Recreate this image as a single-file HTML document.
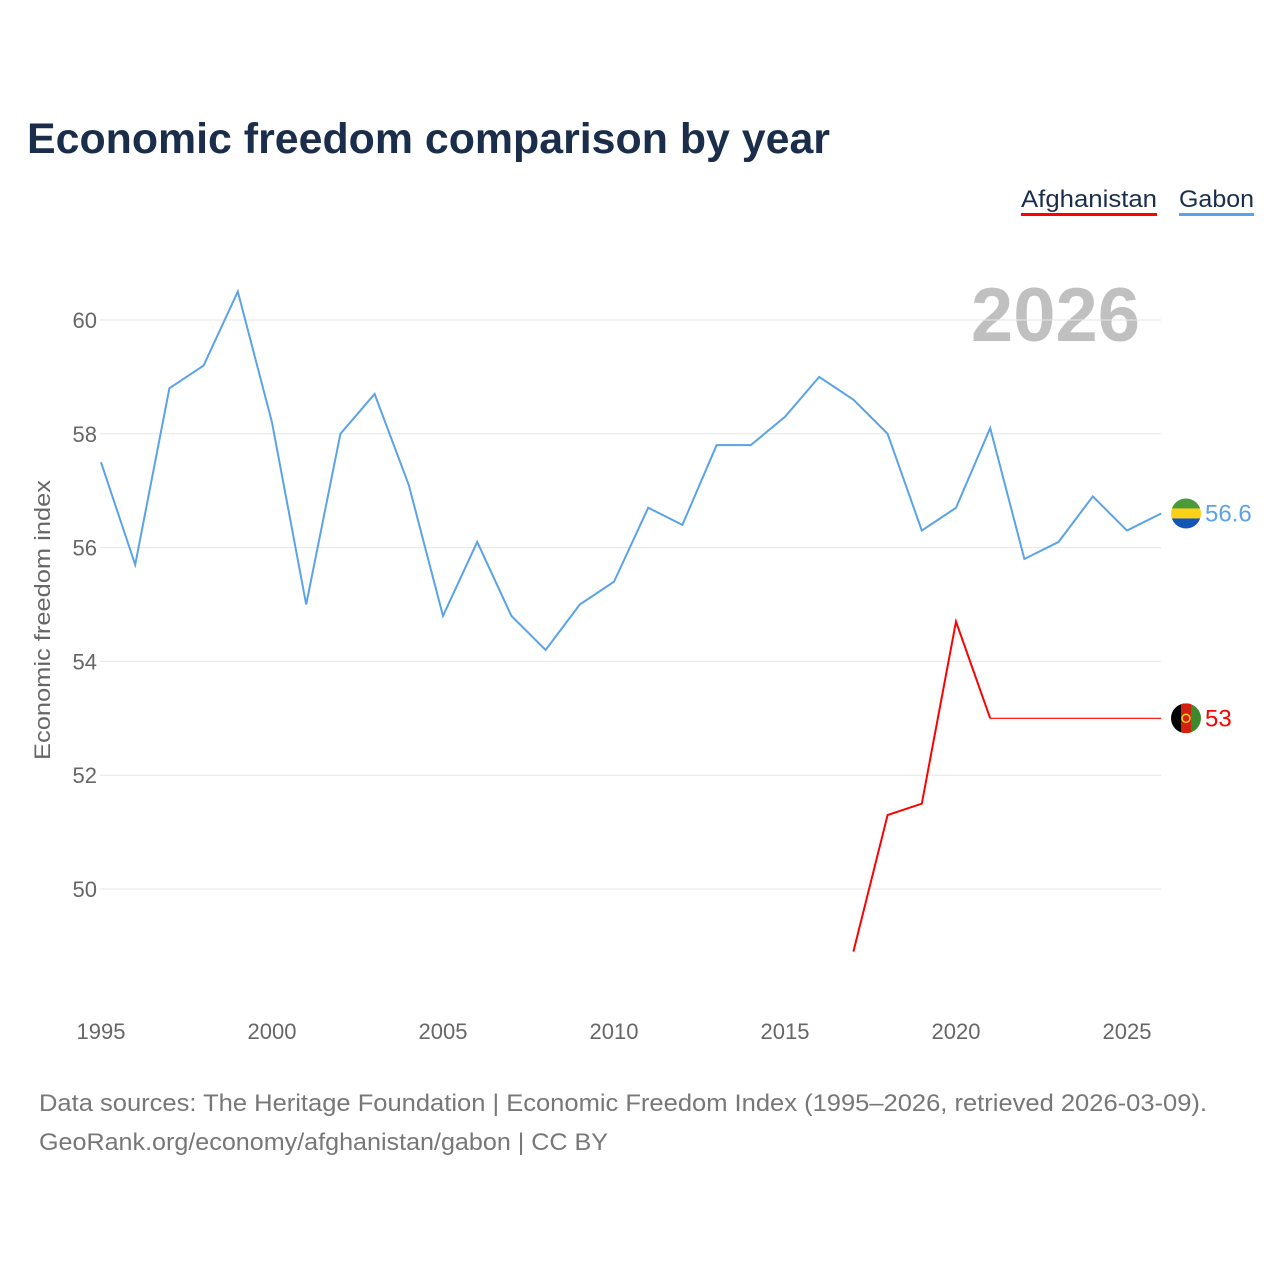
<!DOCTYPE html>
<html><head><meta charset="utf-8">
<style>
body{margin:0;background:#fff;font-family:"Liberation Sans",sans-serif;}
#wrap{position:relative;width:1280px;height:1280px;overflow:hidden;}
</style></head>
<body>
<div id="wrap">
<svg id="chart" width="1280" height="1280">
<text x="27" y="153" font-size="43" font-weight="bold" fill="#1a2e4c" textLength="803" lengthAdjust="spacingAndGlyphs">Economic freedom comparison by year</text>
<g>
<text x="1021" y="207" font-size="24" fill="#1a2e4c" textLength="136" lengthAdjust="spacingAndGlyphs">Afghanistan</text>
<rect x="1021" y="213" width="136" height="3" fill="#ff0000"/>
<text x="1179" y="207" font-size="24" fill="#1a2e4c" textLength="75" lengthAdjust="spacingAndGlyphs">Gabon</text>
<rect x="1179" y="213" width="75" height="3" fill="#5ba3e8"/>
</g>
<text x="1140" y="341" font-size="76" font-weight="bold" fill="#c0c0c0" text-anchor="end">2026</text>
<text transform="translate(50,620) rotate(-90)" font-size="22" fill="#666" text-anchor="middle" textLength="280" lengthAdjust="spacingAndGlyphs">Economic freedom index</text>
<g id="grid"></g><g id="yt"></g><g id="xt"></g><g id="lines"></g>
<text x="39" y="1111" font-size="24" fill="#777" textLength="1168" lengthAdjust="spacingAndGlyphs">Data sources: The Heritage Foundation | Economic Freedom Index (1995–2026, retrieved 2026-03-09).</text>
<text x="39" y="1150" font-size="24" fill="#777" textLength="569" lengthAdjust="spacingAndGlyphs">GeoRank.org/economy/afghanistan/gabon | CC BY</text>
</svg>
</div>
<script>
const years=[1995,1996,1997,1998,1999,2000,2001,2002,2003,2004,2005,2006,2007,2008,2009,2010,2011,2012,2013,2014,2015,2016,2017,2018,2019,2020,2021,2022,2023,2024,2025,2026];
const gabon=[57.5,55.7,58.8,59.2,60.5,58.2,55.0,58.0,58.7,57.1,54.8,56.1,54.8,54.2,55.0,55.4,56.7,56.4,57.8,57.8,58.3,59.0,58.6,58.0,56.3,56.7,58.1,55.8,56.1,56.9,56.3,56.6];
const afgYears=[2017,2018,2019,2020,2021,2022,2023,2024,2025,2026];
const afghanistan=[48.9,51.3,51.5,54.7,53,53,53,53,53,53];
const yTicks=[50,52,54,56,58,60];
const xTicks=[1995,2000,2005,2010,2015,2020,2025];
const NS="http://www.w3.org/2000/svg";
const X=y=>101+(y-1995)*34.2;
const Y=v=>320+(60-v)*56.9;
function mk(t,a,p){const e=document.createElementNS(NS,t);for(const k in a)e.setAttribute(k,a[k]);p.appendChild(e);return e;}
const g=document.getElementById('grid'),yt=document.getElementById('yt'),xt=document.getElementById('xt'),L=document.getElementById('lines');
yTicks.forEach(v=>{
 const l=mk('line',{x1:100,x2:1161,y1:Y(v),y2:Y(v),stroke:'#e6e6e6','stroke-width':1},g);
 
 
 const t=mk('text',{x:97,y:Y(v)+8,'font-size':22,fill:'#666','text-anchor':'end'},yt);t.textContent=v;
 
 
});
xTicks.forEach(v=>{
 const t=mk('text',{x:X(v),y:1039,'font-size':22,fill:'#666','text-anchor':'middle'},xt);t.textContent=v;
 
 
});
function line(xs,vs,c,name,w){
 const p=mk('polyline',{points:xs.map((y,i)=>X(y)+','+Y(vs[i])).join(' '),fill:'none',stroke:c,'stroke-width':w},L);
 
 
}
line(years,gabon,'#5ba3e8','gabon-line',2);
line(afgYears.slice(0,5),afghanistan.slice(0,5),'#ff0000','afghanistan-line',2);
line(afgYears.slice(4),afghanistan.slice(4),'#ff0000','afghanistan-line-flat',1.2);
const gv=gabon[gabon.length-1],av=afghanistan[afghanistan.length-1];
const fx=1186;
const gf=mk('g',{},L);


const cp1=mk('clipPath',{id:'c1'},gf);mk('circle',{cx:fx,cy:Y(gv),r:15},cp1);
mk('rect',{x:fx-15,y:Y(gv)-15,width:30,height:10,fill:'#4a9a3a','clip-path':'url(#c1)'},gf);
mk('rect',{x:fx-15,y:Y(gv)-5,width:30,height:10,fill:'#fcd116','clip-path':'url(#c1)'},gf);
mk('rect',{x:fx-15,y:Y(gv)+5,width:30,height:10,fill:'#1455b8','clip-path':'url(#c1)'},gf);
const gl=mk('text',{x:1205,y:Y(gv)+8,'font-size':24,fill:'#5ba3e8'},L);gl.textContent=gv;


const af=mk('g',{},L);


const cp=mk('clipPath',{id:'c2'},af);mk('circle',{cx:fx,cy:Y(av),r:15},cp);
mk('rect',{x:fx-15,y:Y(av)-15,width:10,height:30,fill:'#000','clip-path':'url(#c2)'},af);
mk('rect',{x:fx-5,y:Y(av)-15,width:10,height:30,fill:'#d32011','clip-path':'url(#c2)'},af);
mk('rect',{x:fx+5,y:Y(av)-15,width:10,height:30,fill:'#3d8a2e','clip-path':'url(#c2)'},af);
mk('circle',{cx:fx,cy:Y(av),r:4,fill:'none',stroke:'#fcd116','stroke-width':1.5},af);
const al=mk('text',{x:1205,y:Y(av)+8,'font-size':24,fill:'#ff0000'},L);al.textContent=av;


</script>
</body></html>
